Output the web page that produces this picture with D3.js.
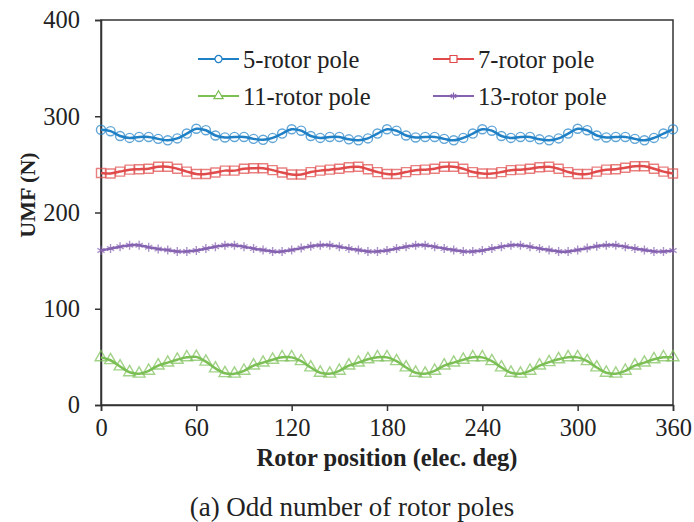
<html>
<script src="https://d3js.org/d3.v7.min.js"></script>
<body style="margin:0;background:#fff">
<script>
    var width = 694
    var height = 522
    var margin = {left: 101, right: 21, top: 20, bottom: 117}
    var serif = "'Liberation Serif', 'Times New Roman', Tinos, 'DejaVu Serif', serif"

    // x positions (elec. deg), one point every 6 degrees
    var positions = d3.range(0, 361, 6)
    var xTicks = [0, 60, 120, 180, 240, 300, 360]
    var yTicks = [0, 100, 200, 300, 400]

    var pole5 = [286, 284.5, 279.5, 277.5, 278.5, 278.5, 276.5, 275, 277, 282,
                 287, 285.5, 280, 278, 278.5, 278.5, 276.5, 275.5, 277.5, 282,
                 286.5, 285, 279.5, 277.5, 278.5, 278.5, 276, 275, 277, 282,
                 286.5, 285, 280, 278, 278.5, 278.5, 276.5, 275, 277.5, 282,
                 286.5, 285, 279.5, 277.5, 278.5, 278.5, 276, 275, 277, 282,
                 287, 285.5, 280, 278, 278.5, 278.5, 276.5, 275, 277.5, 282,
                 286.5]
    var pole7 = [241, 240.5, 242.5, 244.5, 245, 245.5, 247.5, 247.5, 245.5, 242.5,
                 240, 240, 241.5, 243.5, 243.5, 245.5, 246, 246, 244, 241.5,
                 239.5, 239.5, 242, 243.5, 244.5, 245.5, 247, 247.5, 245, 242,
                 240, 240, 242, 244, 244.5, 245.5, 247.5, 247.5, 245.5, 242,
                 240.5, 240.5, 242, 244, 244.5, 245.5, 247, 247.5, 245.5, 242,
                 240, 240, 242.5, 244.5, 245, 246.5, 248, 248, 245.5, 242.5,
                 240.5]
    var pole11 = [49.5, 46.5, 40, 34, 32.5, 35.5, 41, 44, 47, 49.5,
                  50, 45, 38, 33, 32.5, 35.5, 41, 44, 47, 49.5,
                  49.5, 45.5, 39, 33.5, 32.5, 35.5, 41, 44, 47.5, 49.5,
                  49.5, 45.5, 39, 33.5, 32.5, 35.5, 41, 44, 47, 49.5,
                  49.5, 45.5, 39, 33.5, 32.5, 35.5, 41, 44.5, 47.5, 49.5,
                  49.5, 45.5, 39, 33.5, 32.5, 35.5, 41, 44, 47.5, 49.5,
                  49.5]
    var pole13 = [160.5, 162.5, 164.5, 166, 166, 164, 162, 161, 159.5, 159.5,
                  160.5, 162.5, 164.5, 166, 166, 164.5, 162.5, 161, 159.5, 159.5,
                  161, 163, 165, 166, 166, 164.5, 162.5, 161, 159.5, 159.5,
                  160.5, 162.5, 164.5, 166, 166, 164.5, 162.5, 161, 159.5, 159.5,
                  160.5, 162.5, 164.5, 166, 166, 164.5, 162.5, 161, 159.5, 159.5,
                  161, 163, 165, 166, 166, 164.5, 162.5, 161, 159.5, 159.5,
                  160.5]

    var seriesNames = ['5-rotor pole', '7-rotor pole', '11-rotor pole', '13-rotor pole']
    var seriesValues = [pole5, pole7, pole11, pole13]
    var colors = ['#1f80c6', '#e04a4a', '#7bbf55', '#8663b1']
    var markers = ['circle', 'square', 'triangle', 'asterisk']

    var svg = d3.select('body').append('svg').attr('width', width).attr('height', height)
        .style('font-family', serif)

    var x = d3.scaleLinear().domain([0, 360]).range([margin.left, width - margin.right])
    var y = d3.scaleLinear().domain([0, 400]).range([height - margin.bottom, margin.top])

    // frame
    svg.append('rect')
        .attr('x', x(0)).attr('y', y(400))
        .attr('width', x(360) - x(0)).attr('height', y(0) - y(400))
        .attr('fill', 'none').attr('stroke', '#333').attr('stroke-width', 1.5)

    var xAxis = svg.append('g').attr('transform', `translate(0, ${y(0)})`)
        .call(d3.axisBottom(x).tickValues(xTicks).tickSize(6).tickPadding(8))
    var yAxis = svg.append('g').attr('transform', `translate(${x(0)}, 0)`)
        .call(d3.axisLeft(y).tickValues(yTicks).tickSize(6).tickPadding(15))
    ;[xAxis, yAxis].forEach(function(a) {
        a.attr('font-family', null).attr('font-size', null)
        a.select('.domain').attr('stroke', '#333').attr('stroke-width', 1.5)
        a.selectAll('.tick line').attr('stroke', '#333').attr('stroke-width', 1.5)
        a.selectAll('.tick text').style('font-family', serif).style('font-size', '24.5px').attr('fill', '#222')
    })

    function markerPath(type, s) {
        if (type == 'circle') return d3.symbol().type(d3.symbolCircle).size(s * s * 0.8)()
        if (type == 'square') return d3.symbol().type(d3.symbolSquare).size(s * s)()
        if (type == 'triangle') return d3.symbol().type(d3.symbolTriangle).size(s * s * 0.75)()
        var r = s / 2
        var a = r * 0.8
        return `M0,${-r}L0,${r}M${-a},${-a * 0.6}L${a},${a * 0.6}M${-a},${a * 0.6}L${a},${-a * 0.6}`
    }

    var line = d3.line()
        .x(function(d, i) { return x(positions[i]) })
        .y(function(d) { return y(d) })
        .curve(d3.curveCatmullRom.alpha(0.5))

    seriesValues.forEach(function(vals, k) {
        var g = svg.append('g')
        g.append('path').datum(vals)
            .attr('d', line)
            .attr('fill', 'none')
            .attr('stroke', colors[k])
            .attr('stroke-width', 2.5)
        g.selectAll('path.mk').data(vals).enter().append('path')
            .attr('class', 'mk')
            .attr('d', markerPath(markers[k], 9))
            .attr('transform', function(d, i) { return `translate(${x(positions[i])}, ${y(d)})` })
            .attr('fill', 'none')
            .attr('stroke', colors[k])
            .attr('stroke-opacity', 0.7)
            .attr('stroke-width', 1.4)
    })

    // legend
    var legendPos = [[198, 59], [433, 59], [198, 96], [433, 96]]
    seriesNames.forEach(function(name, k) {
        var lg = svg.append('g').attr('transform', `translate(${legendPos[k][0]}, ${legendPos[k][1]})`)
        lg.append('line').attr('x1', 0).attr('x2', 41).attr('y1', 0).attr('y2', 0)
            .attr('stroke', colors[k]).attr('stroke-width', 2)
        lg.append('path').attr('d', markerPath(markers[k], 7))
            .attr('transform', 'translate(20.5, 0)')
            .attr('fill', 'white').attr('stroke', colors[k]).attr('stroke-width', 1.2)
        lg.append('text').attr('x', 45).attr('y', 8.5)
            .style('font-family', serif).style('font-size', '24.5px').attr('fill', '#222')
            .text(name)
    })

    svg.append('text')
        .attr('transform', 'translate(35, 195) rotate(-90)')
        .attr('text-anchor', 'middle').style('font-family', serif).style('font-size', '22px')
        .attr('font-weight', 'bold').attr('fill', '#222')
        .text('UMF (N)')

    svg.append('text')
        .attr('x', (x(0) + x(360)) / 2).attr('y', 466)
        .attr('text-anchor', 'middle').style('font-family', serif).style('font-size', '24.5px')
        .attr('font-weight', 'bold').attr('fill', '#222')
        .text('Rotor position (elec. deg)')

    svg.append('text')
        .attr('x', 352).attr('y', 516)
        .attr('text-anchor', 'middle').style('font-family', serif).style('font-size', '27px')
        .attr('fill', '#222')
        .text('(a) Odd number of rotor poles')
</script>
</body>
</html>
